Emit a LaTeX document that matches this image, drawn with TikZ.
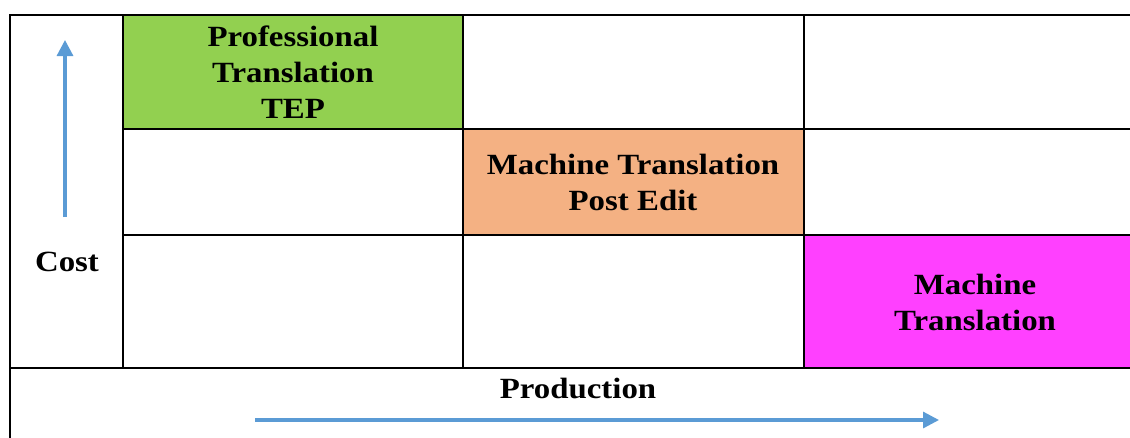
\documentclass[tikz,border=0pt]{standalone}
\usepackage{fontspec}
\setmainfont{Liberation Serif}[FakeStretch=1.12]
\usetikzlibrary{arrows.meta}

\definecolor{tepgreen}{HTML}{92D050}
\definecolor{mtpeorange}{HTML}{F4B183}
\definecolor{mtmagenta}{HTML}{FF40FF}
\definecolor{axisblue}{HTML}{5B9BD5}

\begin{document}
\begin{tikzpicture}[
    x=0.75pt, y=-0.75pt,
    every node/.style={font=\fontsize{22}{27}\selectfont\bfseries},
    celltext/.style={align=center, inner sep=0pt},
    gridline/.style={line width=1.3pt, black},
    axisarrow/.style={-{Triangle[length=12pt, width=12pt]}, line width=2.4pt, axisblue}
]
\useasboundingbox (0,0) rectangle (1130,437);
\clip (0,0) rectangle (1130,437);

% ============ CELL FILLS ============
\fill[tepgreen] (123,15) rectangle (463,129);
\fill[mtpeorange] (463,129) rectangle (804,235);
\fill[mtmagenta] (804,235) rectangle (1140,368);

% ============ GRID ============
\draw[gridline] (10,15) rectangle (1140,445);
\draw[gridline] (123,129) -- (1140,129);
\draw[gridline] (123,235) -- (1140,235);
\draw[gridline] (10,368) -- (1140,368);
\foreach \xpos in {123, 463, 804} {
    \draw[gridline] (\xpos,15) -- (\xpos,368);
}

% ============ CELL LABELS ============
\node[celltext] (tep) at (293,72) {Professional\\Translation\\TEP};
\node[celltext] (mtpe) at (633,182) {Machine Translation\\Post Edit};
\node[celltext] (mt) at (975,302) {Machine\\Translation};

% ============ AXES ============
\node[celltext] (cost) at (67,262) {Cost};
\coordinate (costtail) at (65,217);
\coordinate (costhead) at (65,40);
\draw[axisarrow] (costtail) -- (costhead);

\node[celltext] (prod) at (578,388) {Production};
\coordinate (prodtail) at (255,420);
\coordinate (prodhead) at (939,420);
\draw[axisarrow] (prodtail) -- (prodhead);

\end{tikzpicture}
\end{document}
